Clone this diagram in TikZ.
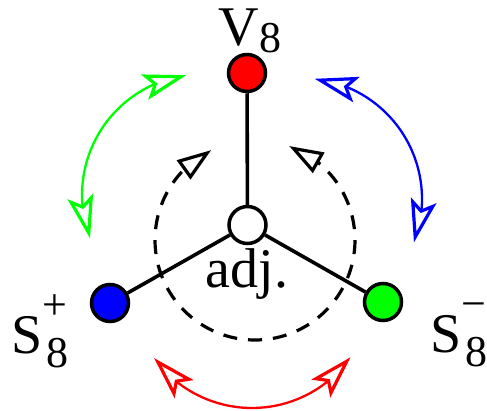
\documentclass[tikz,border=0pt]{standalone}
\usepackage{fontspec}
\setmainfont{Liberation Serif}
\usetikzlibrary{arrows.meta,bending}
\newcommand\subf{\fontsize{44}{44}\selectfont}
\begin{document}
\begin{tikzpicture}[x=1pt,y=-1pt,
  dot/.style={circle,draw=black,line width=3.5pt,minimum size=37pt,inner sep=0pt},
  link/.style={line width=3.6pt},
  cyc/.style={line width=3.2pt,dash pattern=on 14pt off 11pt,dash phase=7pt,
     -{Triangle[open,length=34pt,width=23pt,line width=3.2pt]}},
  swaptip/.tip={Stealth[open,length=43pt,width=26pt,inset=9pt,line width=3.2pt]},
  swaparc/.style={line width=2.3pt,swaptip-swaptip},
  lbl/.style={inner sep=0pt,font=\fontsize{56}{60}\selectfont}
]
\useasboundingbox (0,0) rectangle (487,410);
% dashed cycle
\coordinate (dc) at (255,240);
\draw[cyc] (dc) ++(90:100) arc[start angle=90,end angle=244,radius=100];
\draw[cyc] (dc) ++(90:100) arc[start angle=90,end angle=-70,radius=100];
% nodes
\node[dot,fill=white] (a) at (247.5,225) {};
\node[dot,fill=red] (v) at (247,73) {};
\node[dot,fill=blue] (sp) at (110,303) {};
\node[dot,fill=green] (sm) at (383,302) {};
\draw[link] (v) -- (a);
\draw[link] (a) -- (sp);
\draw[link] (a) -- (sm);
% labels
\node[lbl,anchor=base] (vl) at (250,45) {V{\subf\raisebox{-7pt}{8}}};
\node[lbl,anchor=base west] (spl) at (11,353) {S\rlap{\subf\raisebox{34pt}{+}}{\subf\kern4pt\raisebox{-14pt}{8}}};
\node[lbl,anchor=base west] (sml) at (430,352) {S\rlap{\subf\raisebox{34pt}{−}}{\subf\kern4pt\raisebox{-14pt}{8}}};
\node[lbl,anchor=base] (adj) at (247,287) {adj.};
% swap arcs
\coordinate (gc) at (203,195);
\coordinate (bc) at (301,199);
\coordinate (rc) at (252,287);
\draw[swaparc,green] (gc) ++(159:121) arc[start angle=159,end angle=262,radius=121];
\draw[swaparc,blue] (bc) ++(-83.5:121) arc[start angle=-83.5,end angle=21,radius=121];
\draw[swaparc,red] (rc) ++(35.5:121) arc[start angle=35.5,end angle=144,radius=121];
\end{tikzpicture}
\end{document}
